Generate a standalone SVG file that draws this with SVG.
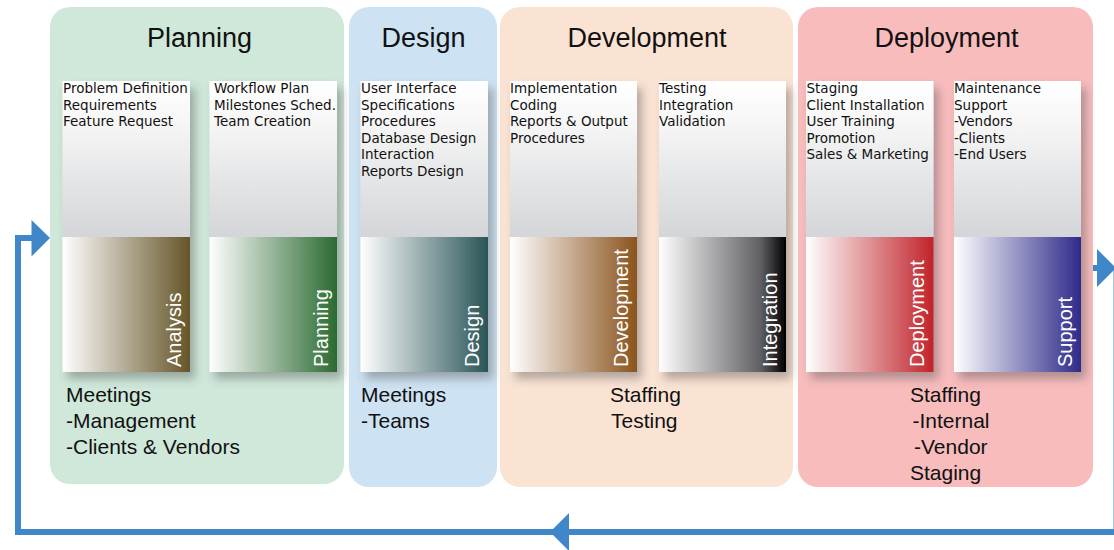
<svg xmlns="http://www.w3.org/2000/svg" width="1114" height="550" viewBox="0 0 1114 550">
<defs>
<linearGradient id="top" x1="0" y1="0" x2="0" y2="1">
<stop offset="0" stop-color="#ffffff"/>
<stop offset="0.25" stop-color="#f7f7f7"/>
<stop offset="1" stop-color="#d3d5d8"/>
</linearGradient>
<linearGradient id="gAna" x1="0" y1="0" x2="1" y2="0"><stop offset="0" stop-color="#ffffff"/><stop offset="1" stop-color="#665528"/></linearGradient>
<linearGradient id="gPla" x1="0" y1="0" x2="1" y2="0"><stop offset="0" stop-color="#ffffff"/><stop offset="1" stop-color="#2b6a31"/></linearGradient>
<linearGradient id="gDes" x1="0" y1="0" x2="1" y2="0"><stop offset="0" stop-color="#ffffff"/><stop offset="1" stop-color="#2a5557"/></linearGradient>
<linearGradient id="gDev" x1="0" y1="0" x2="1" y2="0"><stop offset="0" stop-color="#ffffff"/><stop offset="1" stop-color="#8a531d"/></linearGradient>
<linearGradient id="gInt" x1="0" y1="0" x2="1" y2="0"><stop offset="0" stop-color="#ffffff"/><stop offset="0.8" stop-color="#606064"/><stop offset="1" stop-color="#000000"/></linearGradient>
<linearGradient id="gDep" x1="0" y1="0" x2="1" y2="0"><stop offset="0" stop-color="#ffffff"/><stop offset="1" stop-color="#c0232a"/></linearGradient>
<linearGradient id="gSup" x1="0" y1="0" x2="1" y2="0"><stop offset="0" stop-color="#ffffff"/><stop offset="1" stop-color="#2e2a8a"/></linearGradient>
<filter id="sh" x="-20%" y="-10%" width="150%" height="130%">
<feDropShadow dx="5" dy="7" stdDeviation="5" flood-color="#4a4a4a" flood-opacity="0.4"/>
</filter>
</defs>
<style>
.title{font-family:"Liberation Sans",Arial,sans-serif;font-size:27px;fill:#111;text-anchor:middle}
.ct{font-family:"DejaVu Sans",Verdana,sans-serif;font-size:13.5px;fill:#111}
.bt{font-family:"Liberation Sans",Arial,sans-serif;font-size:21px;fill:#111}
.vl{font-family:"Liberation Sans",Arial,sans-serif;font-size:20px;fill:#ffffff}
.conn{fill:none;stroke:#3f87c9;stroke-width:6}
.head{fill:#3f87c9}
</style>

<g id="connectors">
<path class="conn" d="M1116.5,268 V532 H18 V238 H33"/>
<polygon class="head" points="31.5,220 50,238 31.5,256.5"/>
<polygon class="head" points="569,513 550,532 569,551"/>
<path class="conn" d="M1092,268 H1099"/>
<polygon class="head" points="1097,249 1116,268 1097,287"/>
</g>

<g id="planning">
<rect x="50" y="7" width="294" height="477" rx="20" fill="#cfe8da"/>
<text class="title" x="199.5" y="46.5">Planning</text>
<g id="card-analysis" filter="url(#sh)">
<rect x="62.5" y="81" width="127.5" height="156" fill="url(#top)"/>
<rect x="62.5" y="237" width="127.5" height="135" fill="url(#gAna)"/>
</g>
<text class="ct" x="63" y="93">Problem Definition</text>
<text class="ct" x="63" y="109.5">Requirements</text>
<text class="ct" x="63" y="126">Feature Request</text>
<text class="vl" transform="translate(180.5,367) rotate(-90)">Analysis</text>
<g id="card-planning" filter="url(#sh)">
<rect x="209.5" y="81" width="127.5" height="156" fill="url(#top)"/>
<rect x="209.5" y="237" width="127.5" height="135" fill="url(#gPla)"/>
</g>
<text class="ct" x="214" y="93">Workflow Plan</text>
<text class="ct" x="214" y="109.5">Milestones Sched.</text>
<text class="ct" x="214" y="126">Team Creation</text>
<text class="vl" transform="translate(328,367) rotate(-90)">Planning</text>
<text class="bt" x="66" y="402">Meetings</text>
<text class="bt" x="66" y="428">-Management</text>
<text class="bt" x="66" y="454">-Clients &amp; Vendors</text>
</g>

<g id="design">
<rect x="349" y="7" width="148" height="480" rx="20" fill="#cde2f2"/>
<text class="title" x="423.5" y="46.5">Design</text>
<g id="card-design" filter="url(#sh)">
<rect x="360.5" y="81" width="127.5" height="156" fill="url(#top)"/>
<rect x="360.5" y="237" width="127.5" height="135" fill="url(#gDes)"/>
</g>
<text class="ct" x="361" y="93">User Interface</text>
<text class="ct" x="361" y="109.5">Specifications</text>
<text class="ct" x="361" y="126">Procedures</text>
<text class="ct" x="361" y="142.5">Database Design</text>
<text class="ct" x="361" y="159">Interaction</text>
<text class="ct" x="361" y="175.5">Reports Design</text>
<text class="vl" transform="translate(478.5,367) rotate(-90)">Design</text>
<text class="bt" x="361" y="402">Meetings</text>
<text class="bt" x="361" y="428">-Teams</text>
</g>

<g id="development">
<rect x="500" y="7" width="293" height="480" rx="20" fill="#fbe3d4"/>
<text class="title" x="647" y="46.5">Development</text>
<g id="card-development" filter="url(#sh)">
<rect x="510" y="81" width="127" height="156" fill="url(#top)"/>
<rect x="510" y="237" width="127" height="135" fill="url(#gDev)"/>
</g>
<text class="ct" x="510" y="93">Implementation</text>
<text class="ct" x="510" y="109.5">Coding</text>
<text class="ct" x="510" y="126">Reports &amp; Output</text>
<text class="ct" x="510" y="142.5">Procedures</text>
<text class="vl" transform="translate(627.5,367) rotate(-90)">Development</text>
<g id="card-integration" filter="url(#sh)">
<rect x="659" y="81" width="127" height="156" fill="url(#top)"/>
<rect x="659" y="237" width="127" height="135" fill="url(#gInt)"/>
</g>
<text class="ct" x="659" y="93">Testing</text>
<text class="ct" x="659" y="109.5">Integration</text>
<text class="ct" x="659" y="126">Validation</text>
<text class="vl" transform="translate(776.5,367) rotate(-90)">Integration</text>
<text class="bt" x="610" y="402">Staffing</text>
<text class="bt" x="611" y="428">Testing</text>
</g>

<g id="deployment">
<rect x="798" y="7" width="295" height="480" rx="20" fill="#f8bcbd"/>
<text class="title" x="946.5" y="46.5">Deployment</text>
<g id="card-deployment" filter="url(#sh)">
<rect x="806" y="81" width="127.5" height="156" fill="url(#top)"/>
<rect x="806" y="237" width="127.5" height="135" fill="url(#gDep)"/>
</g>
<text class="ct" x="806.5" y="93">Staging</text>
<text class="ct" x="806.5" y="109.5">Client Installation</text>
<text class="ct" x="806.5" y="126">User Training</text>
<text class="ct" x="806.5" y="142.5">Promotion</text>
<text class="ct" x="806.5" y="159">Sales &amp; Marketing</text>
<text class="vl" transform="translate(924,367) rotate(-90)">Deployment</text>
<g id="card-support" filter="url(#sh)">
<rect x="954" y="81" width="127" height="156" fill="url(#top)"/>
<rect x="954" y="237" width="127" height="135" fill="url(#gSup)"/>
</g>
<text class="ct" x="954" y="93">Maintenance</text>
<text class="ct" x="954" y="109.5">Support</text>
<text class="ct" x="954" y="126">-Vendors</text>
<text class="ct" x="954" y="142.5">-Clients</text>
<text class="ct" x="954" y="159">-End Users</text>
<text class="vl" transform="translate(1071.5,367) rotate(-90)">Support</text>
<text class="bt" x="910" y="402">Staffing</text>
<text class="bt" x="912.5" y="428">-Internal</text>
<text class="bt" x="914" y="454">-Vendor</text>
<text class="bt" x="910" y="480">Staging</text>
</g>
</svg>
